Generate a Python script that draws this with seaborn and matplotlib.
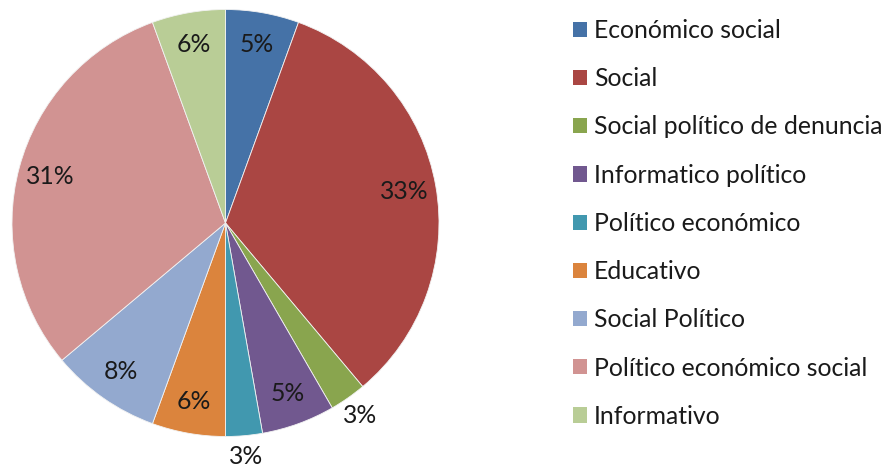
import numpy as np
import seaborn as sns
import matplotlib.pyplot as plt
from matplotlib.patches import Patch

categories = [
    "Económico social",
    "Social",
    "Social político de denuncia",
    "Informatico político",
    "Político económico",
    "Educativo",
    "Social Político",
    "Político económico social",
    "Informativo",
]
counts = [2, 12, 1, 2, 1, 2, 3, 11, 2]
pct_labels = ["5%", "33%", "3%", "5%", "3%", "6%", "8%", "31%", "6%"]
colors = [
    "#4572A7", "#AA4643", "#89A54E", "#71588F", "#4198AF",
    "#DB843D", "#93A9CF", "#D19392", "#B9CD96",
]
# labels of the thin slices sit outside the pie
outside = [False, False, True, False, True, False, False, False, False]

sns.set_theme(style="white")
plt.rcParams["font.family"] = ["Lato", "DejaVu Sans"]
FS = 17.8

W, H = 885, 470
fig = plt.figure(figsize=(W / 100, H / 100), dpi=100)
cx, cy, r = 225.5, 223, 213.5
ax = fig.add_axes([(cx - r) / W, (H - cy - r) / H, 2 * r / W, 2 * r / H])

wedges, texts = ax.pie(
    counts,
    colors=colors,
    startangle=90,
    counterclock=False,
    radius=1,
    wedgeprops={"linewidth": 0.6, "edgecolor": "#f2f2f2"},
)

for w, lab, out in zip(wedges, pct_labels, outside):
    mid = np.deg2rad((w.theta1 + w.theta2) / 2)
    rr = 1.1 if out else 0.85
    ax.text(rr * np.cos(mid), rr * np.sin(mid), lab, ha="center", va="center",
            fontsize=FS, color="#1a1a1a")

ax.set_xlim(-1, 1)
ax.set_ylim(-1, 1)
ax.set_aspect("equal")
ax.axis("off")

handles = [Patch(facecolor=c, edgecolor="none") for c in colors]
fig.legend(
    handles, categories,
    loc="upper left",
    bbox_to_anchor=(573 / W, 1 - 19 / H),
    frameon=False,
    fontsize=FS,
    handlelength=0.57,
    handleheight=0.57,
    handletextpad=0.28,
    labelspacing=1.02,
    borderpad=0,
    borderaxespad=0,
    labelcolor="#1a1a1a",
)

fig.savefig("out.png", dpi=100, facecolor="white")
